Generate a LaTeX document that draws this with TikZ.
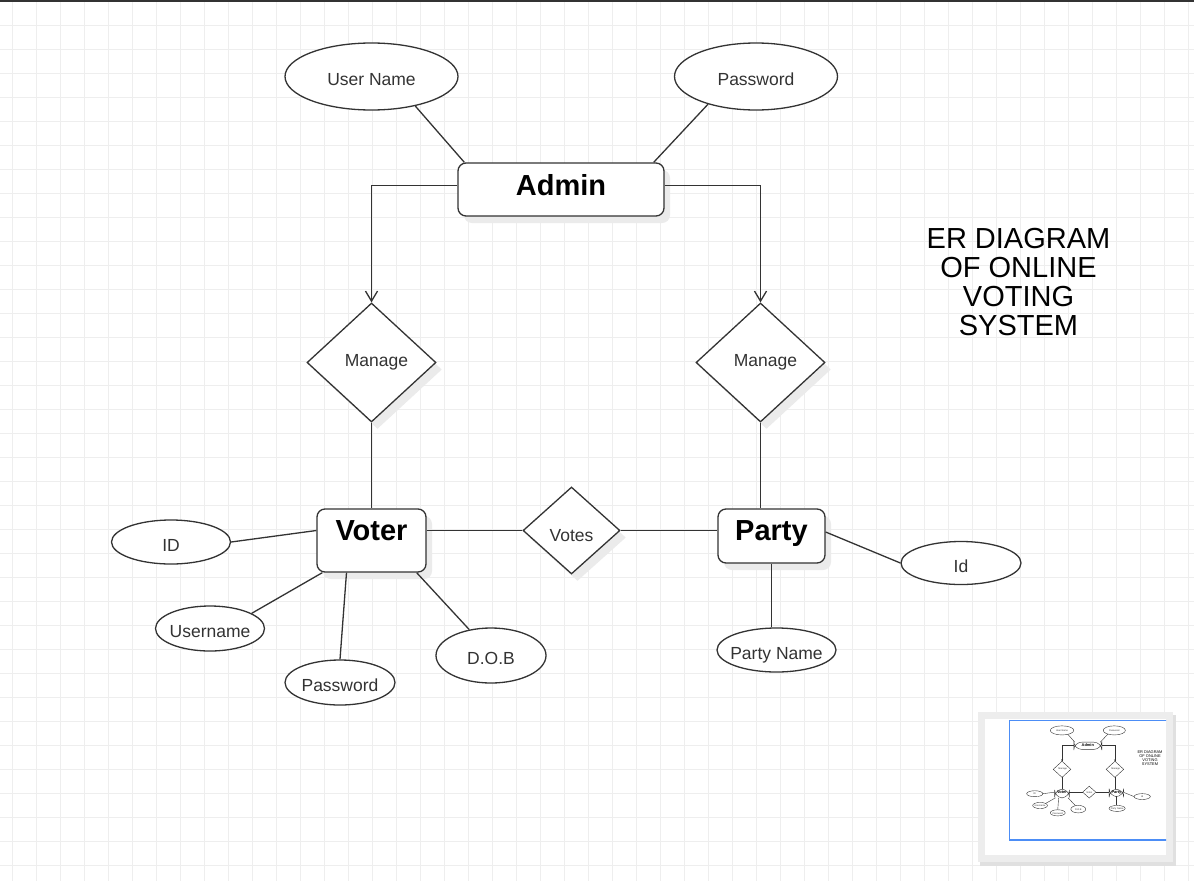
\documentclass[tikz,border=0pt]{standalone}
\usepackage{fontspec}
\setmainfont{Liberation Sans}
\usetikzlibrary{arrows.meta,shapes.geometric,shadows}

\definecolor{linegray}{HTML}{333333}
\definecolor{textgray}{HTML}{333333}
\definecolor{gridgray}{HTML}{EEEEEE}
\definecolor{mapblue}{HTML}{4C8DF6}

\newcommand{\attrfont}{\fontsize{17.5}{21}\selectfont}
\newcommand{\entfont}{\fontsize{29}{34}\selectfont\bfseries}
\newcommand{\headfont}{\fontsize{29}{29}\selectfont}

\newcommand{\erdiagram}{%
        \begin{scope}[every node/.style={entity}]
            \node[minimum width=206pt, minimum height=53pt, text height=20pt, text depth=8pt] (Admin) at (561,189.5) {Admin};
            \node[minimum width=109pt, minimum height=63pt, text height=14pt, text depth=14pt] (Voter) at (371.5,540.5) {Voter};
            \node[minimum width=107pt, minimum height=54pt, text height=20pt, text depth=10.6pt] (Party) at (771.5,536) {Party};
        \end{scope}

        \begin{scope}[every node/.style={relation}]
            \node[minimum width=129pt, minimum height=119pt] (M1) at (371.5,362.5) {\hspace*{10pt}Manage};
            \node[minimum width=129pt, minimum height=119pt] (M2) at (760.5,362.5) {\hspace*{10pt}Manage};
            \node[minimum width=97pt, minimum height=87pt, text height=21pt, text depth=0pt] (Votes) at (571.5,530.5) {Votes};
        \end{scope}

        \begin{scope}[every node/.style={attribute}]
            \node[minimum width=173pt, minimum height=67pt] (UName) at (371.5,76.5) {User Name};
            \node[minimum width=163pt, minimum height=67pt] (APass) at (756,76.5) {Password};
            \node[minimum width=119pt, minimum height=44pt] (VId) at (171,542) {ID};
            \node[minimum width=109pt, minimum height=45pt] (VUser) at (210,628.5) {\makebox[66pt]{Username}};
            \node[minimum width=110pt, minimum height=45pt] (VPass) at (340,682.5) {\makebox[66pt]{Password}};
            \node[minimum width=110pt, minimum height=55pt] (VDob) at (491,655.5) {D.O.B};
            \node[minimum width=119pt, minimum height=44pt] (PName) at (776.5,650) {\makebox[70pt]{Party Name}};
            \node[minimum width=120pt, minimum height=43pt] (PId) at (961,563) {Id};
        \end{scope}

        \node[headline] (Head) at (1018.5,227.5) {ER DIAGRAM\\OF ONLINE\\VOTING\\SYSTEM};

        \begin{scope}[every edge/.style={draw=linegray}]
            \path (UName.-34) edge ([xshift=7pt]Admin.north west);
            \path (APass.-150) edge ([xshift=-11pt]Admin.north east);
            \path (M1.south) edge (Voter.north);
            \path (M2.south) edge (M2.south |- Party.north);
            \path (Votes.west -| Voter.east) edge (Votes.west);
            \path (Votes.east) edge (Votes.east -| Party.west);
            \path (VId.east) edge ([yshift=10pt]Voter.west);
            \path (VUser.20) edge ([xshift=6pt]Voter.south west);
            \path (VPass.north) edge ([xshift=-25pt]Voter.south);
            \path (VDob.130) edge ([xshift=-10pt]Voter.south east);
            \path (Party.south) edge (Party.south |- PName.north);
            \path ([yshift=4pt]Party.east) edge (PId.west);
        \end{scope}
        \draw [->, linegray] ([yshift=4pt]Admin.west) -| (M1.north);
        \draw [->, linegray] ([yshift=4pt]Admin.east) -| (M2.north);
}

\begin{document}
\begin{tikzpicture}[x=1pt, y=-1pt, line width=1.3pt,
        >={Straight Barb[length=10pt,width=12pt]},
        boxshadow/.style={drop shadow={shadow xshift=6pt, shadow yshift=-7pt, fill=black!8, opacity=1}},
        entity/.style={rectangle, rounded corners=8pt, draw=linegray, fill=white, inner sep=0pt, font=\entfont, text=black, boxshadow},
        relation/.style={diamond, draw=linegray, fill=white, inner sep=0pt, font=\attrfont, text=textgray, boxshadow},
        attribute/.style={ellipse, draw=linegray, fill=white, inner sep=0pt, font=\attrfont, text=textgray, text height=18pt, text depth=0pt},
        headline/.style={align=center, font=\headfont, inner sep=0pt, anchor=north}]
        \useasboundingbox (0,0) rectangle (1194,881);
        \fill[white] (0,0) rectangle (1194,881);

        % grid
        \foreach \x in {12,36,...,1188}
            \draw[gridgray, line width=1pt] (\x,0) -- (\x,881);
        \foreach \y in {25,49,...,865}
            \draw[gridgray, line width=1pt] (0,\y) -- (1194,\y);
        \fill[black!80] (0,0) rectangle (1194,2);

        \erdiagram

        % outline view
        \fill[black!12] (980,715) rectangle (1176,866);
        \fill[black!7] (978,712) rectangle (1173,862);
        \fill[white] (985,719) rectangle (1166,855);
        \begin{scope}
            \clip (985,719) rectangle (1166,855);
            \draw[mapblue, line width=1.6pt] (1009.5,720.5) rectangle (1180,840);
            \begin{scope}[shift={(1011.5,720)}, scale=0.136, transform shape, name prefix=m-,
                line width=0.4pt, boxshadow/.style={}, >={Straight Barb[length=1.4pt,width=1.6pt]}]
                \erdiagram
            \end{scope}
        \end{scope}
\end{tikzpicture}
\end{document}
